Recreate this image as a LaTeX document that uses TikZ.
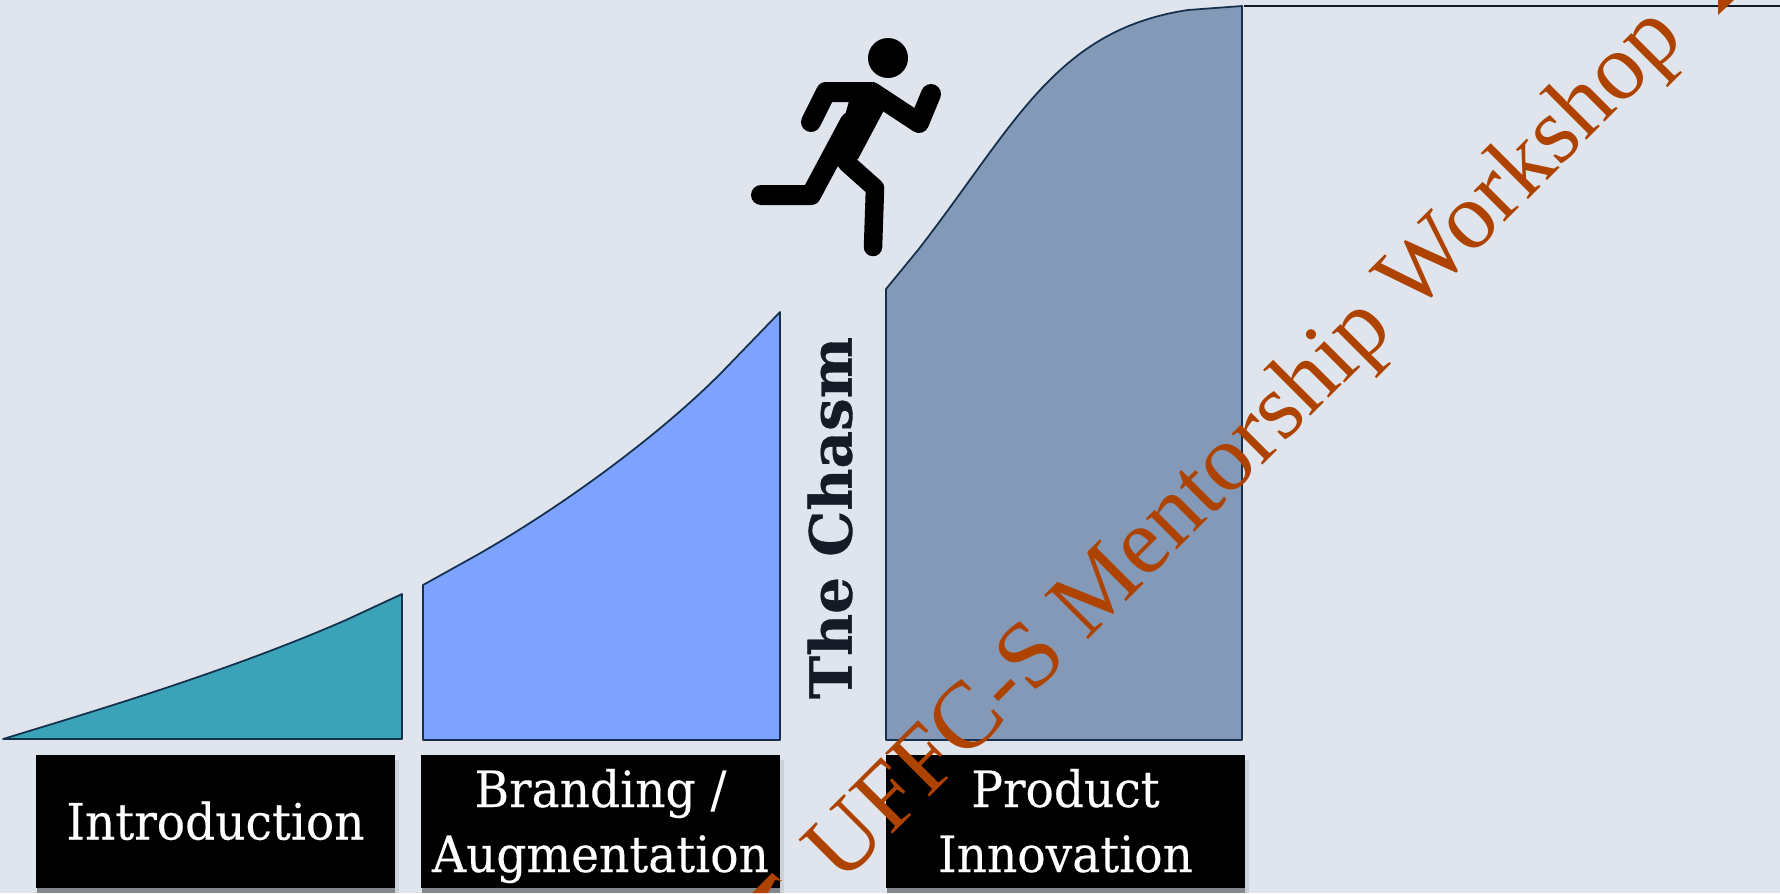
\documentclass[tikz,border=0pt]{standalone}
\usepackage{fontspec}
\setmainfont{DejaVu Serif}
\newfontfamily\slabfont[FakeStretch=0.94,FakeBold=0.25]{DejaVu Serif}
\newfontfamily\chasmfont[FakeBold=0.6]{DejaVu Serif Bold}
\newfontfamily\markfont{Liberation Serif}
\newcommand{\phasestrut}{\rule[-11.1pt]{0pt}{42.7pt}}
\definecolor{bgslide}{HTML}{DFE4ED}
\definecolor{tealarea}{HTML}{3BA3B7}
\definecolor{bluearea}{HTML}{7DA2FF}
\definecolor{grayarea}{HTML}{8499B8}
\definecolor{edgeline}{HTML}{14304B}
\definecolor{markcolor}{HTML}{AE4300}
\definecolor{chasmtext}{HTML}{151B26}
\tikzset{
    area/.style={draw=edgeline, line width=1pt, line join=round},
    phasebox/.style={fill=black, text=white, minimum width=7.18cm, minimum height=2.66cm, inner xsep=0pt, inner ysep=-8pt, align=center, font=\slabfont\fontsize{28.5}{37}\selectfont},
    limb/.style={line width=0.4cm, line cap=round, line join=round}
}
\begin{document}
\begin{tikzpicture}[x=0.02cm, y=-0.02cm]
    \fill[bgslide] (0,0) rectangle (1780,893);
    \clip (0,0) rectangle (1780,893);

    % Areas under the curve
    \draw[area, fill=tealarea] (3,739) .. controls (91,712) and (227,672) .. (346,620) -- (402,594) -- (402,739) -- cycle;
    \draw[area, fill=bluearea] (423,585) -- (477,555) .. controls (570,502) and (665,430) .. (723,371) -- (780,312) -- (780,740) -- (423,740) -- cycle;
    \draw[area, fill=grayarea] (886,289) -- (918,250) .. controls (1015,125) and (1055,30) .. (1188,10) -- (1242,6) -- (1242,740) -- (886,740) -- cycle;
    \coordinate (lineStart) at (1244,6);
    \coordinate (lineEnd) at (1780,6);
    \draw[chasmtext, line width=1pt] (lineStart) -- (lineEnd);

    % Shadows
    \foreach \x in {36,421,886} {
        \fill[black, opacity=.4] (\x+1,888) rectangle (\x+359,893);
        \fill[black, opacity=.08] (\x+359,760) rectangle (\x+363,893);
    }

    % Labels under the areas
    \node[phasebox] (intro) at (215.5,821.5) {\phasestrut Introduction};
    \node[phasebox] (branding) at (600.5,821.5) {\phasestrut Branding /\\\strut Augmentation};
    \node[phasebox] (product) at (1065.5,821.5) {\phasestrut Product\\\strut Innovation};

    \node[rotate=90, text=chasmtext, font=\chasmfont\fontsize{33}{33}\selectfont] (chasm) at (830,518) {The Chasm};

    % Runner
    \fill (888,58) circle (0.4cm);
    \fill (849,101) -- (845,90) -- (878,90) -- (883,112) -- (858,159) -- (847,163) -- (830,170) -- cycle;
    \draw[limb] (811,122) -- (826,92) -- (872,92) -- (919,123) -- (931,94);
    \draw[limb] (761,195) -- (811,195) -- (850,122);
    \draw[limb, line width=0.37cm] (847,163) -- (875,188) -- (873,247);

    % Watermark
    \node[rotate=45, text=markcolor, font=\markfont\fontsize{54}{54}\selectfont] (mark) at (1248,447) {UFFC-S Mentorship Workshop};
    \fill[markcolor] (772,873) -- (782,881) -- (775,880) -- (768,893) -- (752,893) -- cycle;
    \fill[markcolor] (1718,15) -- (1718,0) -- (1734,0) -- cycle;
\end{tikzpicture}
\end{document}
